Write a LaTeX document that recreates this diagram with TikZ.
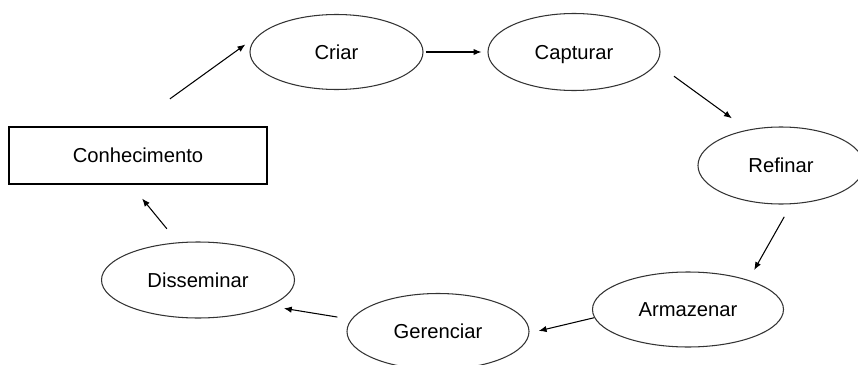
\documentclass[tikz,border=0pt]{standalone}
\usepackage{fontspec}
\setmainfont{Liberation Sans}
\usetikzlibrary{shapes.geometric,arrows.meta}

\begin{document}
\begin{tikzpicture}[>={Latex[length=4.5pt,width=3.6pt]},
    every node/.style={font=\fontsize{11.5pt}{14pt}\selectfont, text height=8.3pt, text depth=0pt},
    etapa/.style={ellipse, draw=black!80, line width=0.6pt, inner sep=0pt},
    caixa/.style={rectangle, draw, line width=0.75pt, minimum width=5.16cm, minimum height=1.14cm},
    seta/.style={->, line width=0.6pt}]
    \useasboundingbox (0,0) rectangle (17.16,-7.3);

    % ノードの配置
    \node[caixa] (conh) at (2.76,-3.11) {Conhecimento};
    \node[etapa, minimum width=3.46cm, minimum height=1.5cm] (criar) at (6.73,-1.04) {Criar};
    \node[etapa, minimum width=3.44cm, minimum height=1.54cm] (capt) at (11.48,-1.04) {Capturar};
    \node[etapa, minimum width=3.32cm, minimum height=1.54cm] (ref) at (15.62,-3.31) {Refinar};
    \node[etapa, minimum width=3.82cm, minimum height=1.5cm] (arm) at (13.76,-6.19) {Armazenar};
    \node[etapa, minimum width=3.64cm, minimum height=1.52cm] (ger) at (8.76,-6.63) {Gerenciar};
    \node[etapa, minimum width=3.86cm, minimum height=1.52cm] (diss) at (3.96,-5.6) {Disseminar};

    % 矢印
    \draw[seta, shorten <=0.94cm, shorten >=0.35cm] (conh.102) -- (criar.167);
    \draw[seta, shorten <=0.04cm, shorten >=0.12cm] (criar.east) -- (capt.west);
    \draw[seta, shorten <=0.43cm, shorten >=0.39cm] (capt.-8.7) -- (ref.133);
    \draw[seta, shorten <=0.29cm, shorten >=0.23cm] (ref.-75) -- (arm.26.5);
    \draw[seta, shorten >=0.19cm] (arm.185) -- (ger.-1);
    \draw[seta, shorten <=0.28cm, shorten >=0.29cm] (ger.172) -- (diss.-20);
    \draw[seta, shorten <=0.35cm, shorten >=0.36cm] (diss.118) -- (conh.256);
\end{tikzpicture}
\end{document}
